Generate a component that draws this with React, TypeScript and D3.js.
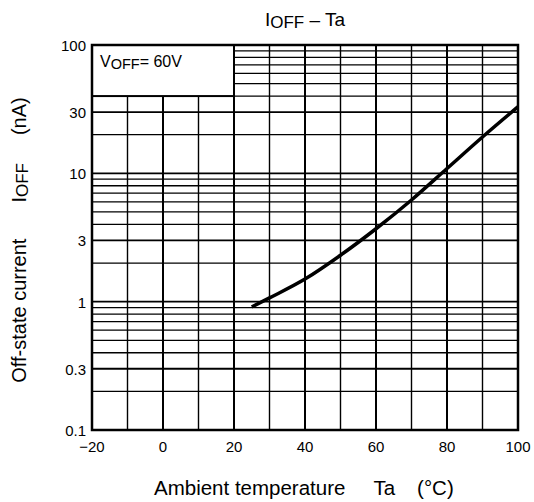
import { useEffect, useRef } from 'react';
import * as d3 from 'd3';

const temps = [25, 30, 40, 50, 60, 70, 80, 90, 100];
const ioff = [0.91, 1.07, 1.5, 2.3, 3.7, 6.2, 10.9, 19.2, 33];
const xTicks = [-20, 0, 20, 40, 60, 80, 100];
const yTicks = [0.1, 0.3, 1, 3, 10, 30, 100];

export default function App() {
  const svgRef = useRef<SVGSVGElement>(null);

  useEffect(() => {
    const svg = d3.select(svgRef.current);
    const width = 534;
    const height = 502;
    const margin = { top: 45, right: 16, bottom: 72, left: 92 };

    svg.attr('width', width).attr('height', height);
    svg.selectAll('*').remove();

    const x = d3
      .scaleLinear()
      .domain([-20, 100])
      .range([margin.left, width - margin.right]);
    const y = d3
      .scaleLog()
      .domain([0.1, 100])
      .range([height - margin.bottom, margin.top]);

    const font = 'Liberation Sans, Arial, sans-serif';

    // grid
    const g = svg.append('g');
    d3.range(-10, 100, 10).forEach((t) => {
      g.append('line')
        .attr('x1', x(t))
        .attr('x2', x(t))
        .attr('y1', y(0.1))
        .attr('y2', y(100))
        .attr('stroke', '#000')
        .attr('stroke-width', t % 20 === 0 ? 2 : 1.4);
    });
    [0.1, 1, 10].forEach((dec) => {
      d3.range(1, 10).forEach((m) => {
        const v = dec * m;
        if (v <= 0.1) return;
        g.append('line')
          .attr('x1', x(-20))
          .attr('x2', x(100))
          .attr('y1', y(v))
          .attr('y2', y(v))
          .attr('stroke', '#000')
          .attr('stroke-width', m === 1 || m === 3 ? 1.8 : 1.3);
      });
    });

    // condition box
    svg
      .append('rect')
      .attr('x', x(-20))
      .attr('y', y(100))
      .attr('width', x(20) - x(-20))
      .attr('height', y(40) - y(100))
      .attr('fill', '#fff')
      .attr('stroke', '#000')
      .attr('stroke-width', 2);
    const box = svg
      .append('text')
      .attr('x', x(-20) + 8)
      .attr('y', y(100) + 22)
      .attr('font-family', font)
      .attr('font-size', 16);
    box.append('tspan').text('V');
    box.append('tspan').attr('font-size', 14.5).attr('dy', 2).text('OFF');
    box.append('tspan').attr('dy', -2).text('= 60V');

    // frame
    svg
      .append('rect')
      .attr('x', x(-20))
      .attr('y', y(100))
      .attr('width', x(100) - x(-20))
      .attr('height', y(0.1) - y(100))
      .attr('fill', 'none')
      .attr('stroke', '#000')
      .attr('stroke-width', 2.5);

    // curve
    const line = d3
      .line<number>()
      .x((d, i) => x(temps[i]))
      .y((d) => y(d))
      .curve(d3.curveMonotoneX);
    svg
      .append('path')
      .datum(ioff)
      .attr('fill', 'none')
      .attr('stroke', '#000')
      .attr('stroke-width', 3.5)
      .attr('d', line);

    // tick labels
    svg
      .append('g')
      .selectAll('text')
      .data(xTicks)
      .join('text')
      .attr('x', (d) => x(d))
      .attr('y', y(0.1) + 22)
      .attr('text-anchor', 'middle')
      .attr('font-family', font)
      .attr('font-size', 15)
      .text((d) => (d < 0 ? '\u2212' + Math.abs(d) : String(d)));
    svg
      .append('g')
      .selectAll('text')
      .data(yTicks)
      .join('text')
      .attr('x', x(-20) - 6)
      .attr('y', (d) => y(d) + 6)
      .attr('text-anchor', 'end')
      .attr('font-family', font)
      .attr('font-size', 15)
      .text((d) => String(d));

    // title
    const title = svg
      .append('text')
      .attr('x', 305)
      .attr('y', 26)
      .attr('text-anchor', 'middle')
      .attr('font-family', font)
      .attr('font-size', 19);
    title.append('tspan').text('I');
    title.append('tspan').attr('font-size', 17).attr('dy', 2).text('OFF');
    title.append('tspan').attr('dy', -2).text(' \u2013 Ta');

    // axis labels
    const xl = svg
      .append('text')
      .attr('x', 154)
      .attr('y', 495)
      .attr('font-family', font)
      .attr('font-size', 20.5);
    xl.append('tspan').text('Ambient temperature');
    xl.append('tspan').attr('dx', 28).text('Ta');
    xl.append('tspan').attr('dx', 22).text('(\u00b0C)');

    const yl = svg
      .append('text')
      .attr('transform', `translate(26,240) rotate(-90)`)
      .attr('text-anchor', 'middle')
      .attr('font-family', font)
      .attr('font-size', 20);
    yl.append('tspan').text('Off-state current');
    yl.append('tspan').attr('dx', 36).text('I');
    yl.append('tspan').attr('font-size', 17).attr('dy', 2).text('OFF');
    yl.append('tspan').attr('dy', -2).attr('dx', 28).text('(nA)');
  }, []);

  return <svg ref={svgRef} style={{ position: 'absolute', left: 0, top: 0 }}></svg>;
}
